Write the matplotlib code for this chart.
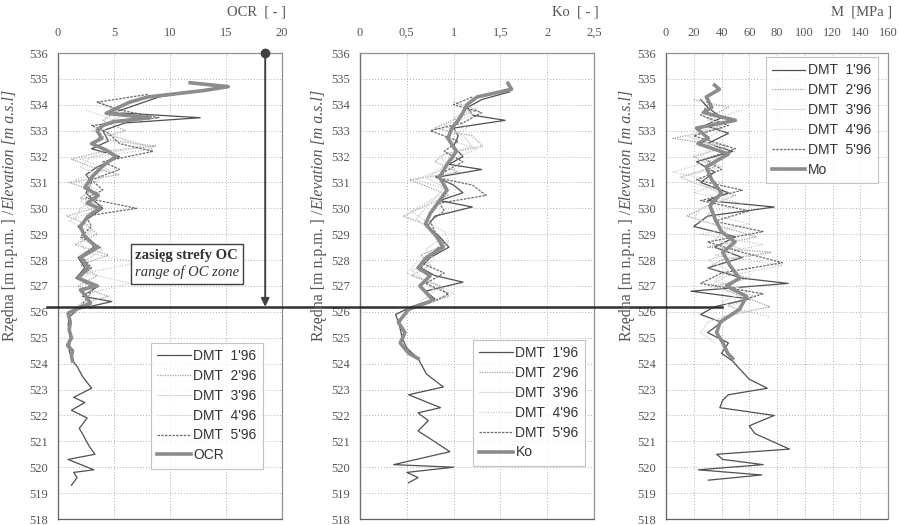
import matplotlib
matplotlib.use("Agg")
import matplotlib.pyplot as plt
from matplotlib.lines import Line2D
from matplotlib.offsetbox import TextArea, VPacker, AnnotationBbox
from matplotlib.transforms import blended_transform_factory

# ---------------- data: OCR panel ----------------
ocr_elev = [534.85, 534.7, 534.55, 534.3, 534.1, 533.9, 533.67, 533.5, 533.35, 533.2, 533.0,
            532.7, 532.5, 532.25, 532.0, 531.8, 531.6, 531.2, 530.8, 530.5, 530.2, 530.0,
            529.7, 529.3, 528.9, 528.5, 528.1, 527.7, 527.3, 527.0, 526.85, 526.6, 526.33,
            526.1, 525.95, 525.6, 525.3, 525.0, 524.7, 524.5, 524.3, 524.1]
ocr_mean = [11.8, 15.2, 13.0, 8.0, 6.4, 5.4, 4.3, 8.2, 5.0, 4.0, 3.5,
            3.9, 3.0, 4.3, 5.2, 4.5, 3.9, 3.0, 2.4, 3.6, 2.6, 3.7,
            2.7, 2.0, 2.4, 3.5, 2.0, 2.7, 1.8, 3.5, 2.0, 2.5, 2.9,
            1.6, 0.9, 1.1, 1.0, 1.2, 0.85, 1.3, 1.2, 1.3]

ocr1_elev = [534.6, 534.3, 534.0, 533.7, 533.5, 533.3, 533.0, 532.6, 532.3, 532.0, 531.6,
             531.3, 531.0, 530.6, 530.3, 530.0, 529.7, 529.3, 528.9, 528.5, 528.1, 527.7,
             527.3, 527.0, 526.6, 526.4, 526.1, 525.8, 525.5, 525.0, 524.5, 524.1, 523.9,
             523.5, 523.05, 522.7, 522.5, 522.2, 521.9, 521.5, 521.2, 520.8, 520.5, 520.3,
             519.9, 519.8, 519.6, 519.3]
ocr1 = [13.5, 9.0, 7.0, 5.0, 12.7, 6.0, 4.0, 4.5, 3.0, 5.5, 3.5,
        2.5, 3.0, 2.5, 3.2, 4.0, 3.0, 1.8, 2.6, 3.2, 1.8, 2.4,
        1.6, 3.6, 2.2, 4.8, 1.8, 1.0, 0.9, 1.1, 1.0, 1.3, 1.7,
        2.2, 3.0, 1.4, 2.4, 1.2, 2.6, 1.9, 2.3, 2.8, 3.3, 0.9,
        3.2, 1.4, 1.7, 1.2]

ocr2_elev = [534.1, 533.8, 533.4, 533.0, 532.7, 532.4, 532.2, 531.9, 531.6, 531.3, 531.0,
             530.7, 530.4, 530.1, 529.7, 529.4, 529.0, 528.6, 528.2, 527.8, 527.4, 527.0,
             526.6, 526.3, 526.0, 525.7]
ocr2 = [3.5, 5.5, 4.0, 6.0, 3.5, 8.7, 4.0, 1.2, 3.0, 5.5, 1.0,
        3.0, 2.0, 4.0, 0.8, 2.5, 3.5, 1.5, 4.5, 2.0, 3.5, 1.8,
        4.5, 2.0, 1.2, 1.0]

ocr3_elev = [534.0, 533.6, 533.2, 532.8, 532.4, 532.0, 531.6, 531.2, 530.8, 530.4, 530.0,
             529.6, 529.2, 528.8, 528.4, 528.0, 527.6, 527.2, 526.8, 526.4, 526.0]
ocr3 = [4.0, 6.0, 3.5, 5.0, 7.5, 3.0, 2.0, 4.0, 2.5, 3.5, 2.0,
        1.5, 3.0, 2.0, 4.0, 2.5, 3.0, 2.0, 3.0, 2.5, 1.5]

ocr4_elev = [533.8, 533.4, 533.0, 532.6, 532.3, 531.9, 531.5, 531.1, 530.7, 530.3, 529.9,
             529.5, 529.1, 528.7, 528.3, 527.9, 527.5, 527.1, 526.7, 526.3]
ocr4 = [2.5, 5.0, 3.0, 6.5, 8.5, 2.0, 4.5, 1.5, 3.5, 2.0, 3.0,
        1.0, 3.0, 2.0, 2.5, 7.0, 2.5, 6.5, 2.5, 2.0]

ocr5_elev = [534.4, 534.1, 533.8, 533.5, 533.2, 532.9, 532.5, 532.2, 531.8, 531.5, 531.1,
             530.7, 530.4, 530.0, 529.7, 529.3, 528.9, 528.5, 528.1, 527.7, 527.3, 526.9,
             526.5, 526.2]
ocr5 = [8.0, 3.5, 5.5, 9.0, 3.0, 4.5, 5.5, 8.5, 4.0, 5.5, 3.0,
        4.0, 2.5, 7.0, 2.5, 3.0, 2.0, 3.8, 2.2, 3.0, 1.8, 3.2,
        2.5, 2.0]

# ---------------- data: Ko panel ----------------
ko_elev = [534.83, 534.6, 534.3, 534.0, 533.7, 533.4, 533.1, 532.7, 532.2, 531.7, 531.2,
           530.7, 530.3, 529.8, 529.4, 528.9, 528.5, 528.1, 527.7, 527.4, 527.0, 526.5,
           526.4, 526.1, 525.6, 525.2, 524.8, 524.4, 524.2]
ko_mean = [1.58, 1.62, 1.25, 1.14, 1.10, 1.05, 0.98, 0.94, 1.03, 0.93, 0.85,
           0.93, 0.85, 0.75, 0.70, 0.82, 0.89, 0.71, 0.62, 0.75, 0.64, 0.77,
           0.75, 0.52, 0.41, 0.48, 0.43, 0.52, 0.62]

ko1_elev = [534.5, 534.2, 533.9, 533.6, 533.4, 533.1, 532.8, 532.4, 532.0, 531.7, 531.5,
            531.2, 530.9, 530.6, 530.3, 530.05, 529.7, 529.3, 528.9, 528.5, 528.1, 527.7,
            527.4, 527.15, 526.8, 526.5, 526.2, 525.9, 525.5, 525.0, 524.6, 524.2, 523.6,
            523.1, 522.8, 522.3, 522.1, 521.8, 521.4, 521.1, 520.6, 520.1, 520.0, 519.8,
            519.6, 519.4]
ko1 = [1.6, 1.3, 1.15, 1.2, 1.55, 1.0, 1.05, 1.0, 1.1, 0.95, 1.3,
       0.82, 1.0, 1.1, 0.85, 1.2, 0.8, 0.72, 0.85, 0.95, 0.75, 0.65,
       0.8, 1.1, 0.7, 0.8, 0.55, 0.38, 0.42, 0.45, 0.5, 0.62, 0.71,
       0.89, 0.52, 0.86, 0.62, 0.73, 0.62, 0.75, 0.96, 0.36, 1.0, 0.50,
       0.62, 0.52]

ko2_elev = [534.1, 533.8, 533.5, 533.1, 532.8, 532.4, 532.1, 531.8, 531.4, 531.1, 530.8,
            530.5, 530.1, 529.7, 529.4, 529.0, 528.6, 528.2, 527.8, 527.4, 527.0, 526.6,
            526.3]
ko2 = [1.0, 1.25, 1.05, 0.8, 1.2, 1.31, 0.9, 0.8, 1.05, 0.53, 0.75,
       0.95, 0.7, 0.46, 0.68, 0.8, 0.92, 0.65, 0.75, 0.55, 0.85, 0.95,
       0.7]

ko3_elev = [534.0, 533.6, 533.2, 532.8, 532.4, 532.0, 531.6, 531.2, 530.8, 530.4, 530.0,
            529.6, 529.2, 528.8, 528.4, 528.0, 527.6, 527.2, 526.8, 526.4]
ko3 = [1.1, 1.2, 0.9, 1.1, 1.2, 0.85, 0.95, 0.7, 0.9, 0.8, 0.7,
       0.6, 0.75, 0.85, 0.7, 0.8, 0.55, 0.7, 0.8, 0.65]

ko4_elev = [533.9, 533.5, 533.1, 532.7, 532.3, 531.9, 531.5, 531.1, 530.7, 530.3, 529.9,
            529.5, 529.1, 528.7, 528.3, 527.9, 527.5, 527.1, 526.7, 526.3]
ko4 = [1.25, 1.0, 1.15, 0.9, 1.25, 1.0, 0.85, 0.6, 0.95, 0.75, 0.55,
       0.7, 0.9, 0.95, 0.75, 0.6, 0.5, 0.8, 1.0, 0.7]

ko5_elev = [534.3, 534.0, 533.7, 533.3, 533.0, 532.6, 532.2, 531.8, 531.5, 531.2, 530.9,
            530.5, 530.2, 529.9, 529.5, 529.1, 528.7, 528.3, 527.9, 527.5, 527.1, 526.7,
            526.4]
ko5 = [1.2, 1.0, 1.3, 1.1, 0.75, 1.05, 0.9, 1.1, 0.95, 0.8, 1.2,
       1.35, 0.85, 0.9, 0.75, 0.8, 0.9, 0.78, 0.65, 0.9, 0.7, 0.95,
       0.78]

# ---------------- data: M panel ----------------
m_elev = [534.76, 534.6, 534.3, 533.9, 533.7, 533.4, 533.1, 532.7, 532.5, 532.1, 531.6,
          531.1, 530.6, 530.1, 529.6, 529.1, 528.7, 528.3, 527.8, 527.3, 527.0, 526.6,
          526.1, 525.6, 525.2, 524.8, 524.4, 524.2]
m_mean = [35, 38.5, 29, 33, 27, 50, 22, 30.5, 23, 45, 29,
          33, 40, 31.7, 35.3, 40, 49.7, 41, 46, 53, 43.5, 58,
          53, 39, 36.5, 41, 44.5, 48]

m1_elev = [534.2, 533.9, 533.5, 533.2, 532.9, 532.5, 532.2, 531.8, 531.4, 531.0, 530.6,
           530.3, 530.05, 529.7, 529.3, 528.9, 528.5, 528.1, 527.7, 527.3, 527.1, 526.8,
           526.5, 526.2, 525.9, 525.6, 525.2, 524.8, 524.4, 524.1, 523.8, 523.4, 523.05,
           522.8, 522.6, 522.3, 522.0, 521.6, 521.3, 520.7, 520.5, 520.3, 520.1, 519.9,
           519.7, 519.5]
m1 = [25, 30, 40, 28, 45, 30, 48, 22, 35, 25, 45,
      30, 78, 30, 20, 50, 35, 55, 30, 55, 88, 18,
      60, 35, 25, 40, 30, 45, 40, 48, 53, 60, 73,
      45, 41, 38.8, 78, 60, 64, 89, 36.5, 41, 70, 23.3,
      69, 30.5]

m2_elev = [534.2, 533.9, 533.5, 533.1, 532.7, 532.4, 532.0, 531.6, 531.2, 530.9, 530.5,
           530.1, 529.7, 529.3, 528.9, 528.5, 528.3, 528.0, 527.7, 527.3, 527.0, 526.6,
           526.2, 525.8]
m2 = [20, 45, 30, 40, 5, 45, 20, 35, 10, 25, 50,
      30, 15, 40, 65, 30, 76, 40, 30, 60, 35, 55,
      75, 40]

m3_elev = [534.0, 533.6, 533.2, 532.8, 532.4, 532.0, 531.6, 531.2, 530.8, 530.4, 530.0,
           529.6, 529.2, 528.8, 528.4, 528.0, 527.6, 527.2, 526.8, 526.4, 526.0, 525.6,
           525.2, 524.8]
m3 = [35, 25, 40, 15, 35, 25, 40, 10, 30, 45, 25,
      20, 45, 35, 55, 30, 45, 35, 60, 40, 55, 30,
      25, 35]

m4_elev = [533.8, 533.4, 533.0, 532.6, 532.2, 531.8, 531.4, 531.0, 530.6, 530.2, 529.8,
           529.4, 529.0, 528.6, 528.2, 527.8, 527.4, 527.0, 526.6, 526.2, 525.8]
m4 = [55, 30, 40, 25, 50, 30, 5, 40, 20, 55, 30,
      60, 25, 70, 35, 84, 45, 30, 65, 45, 75]

m5_elev = [534.0, 533.6, 533.2, 532.8, 532.3, 531.9, 531.5, 531.1, 530.7, 530.3, 529.9,
           529.5, 529.1, 528.7, 528.3, 527.9, 527.5, 527.1, 526.7, 526.3]
m5 = [30, 25, 45, 20, 50, 28, 40, 22, 55, 25, 60,
      35, 70, 30, 55, 84, 40, 25, 70, 45]

series_labels = ["DMT  1'96", "DMT  2'96", "DMT  3'96", "DMT  4'96", "DMT  5'96"]
oc_zone_bottom = 526.2
arrow_x = 18.5

# ---------------- styles ----------------
dmt_styles = [
    dict(color="#505050", lw=0.9, ls="-"),
    dict(color="#a0a0a0", lw=0.9, ls=(0, (1, 1))),
    dict(color="#dedede", lw=0.8, ls="-"),
    dict(color="#bdbdbd", lw=0.8, ls=(0, (1, 1.5))),
    dict(color="#6a6a6a", lw=0.9, ls=(0, (2, 1))),
]
mean_style = dict(color="#8c8c8c", lw=2.6, ls="-")

SERIF = "Liberation Serif"
SANS = "Liberation Sans"
TXT = "#555555"

fig = plt.figure(figsize=(8.99, 5.25), dpi=100)
W, H = 899.0, 525.0
y_top_px, y_bot_px = 53.0, 519.0
panels = [(58, 282), (360, 594), (666, 888)]
axes = []
for (l, r) in panels:
    ax = fig.add_axes([l / W, 1 - y_bot_px / H, (r - l) / W, (y_bot_px - y_top_px) / H])
    axes.append(ax)


def style_axis(ax, xmax, xstep, title, xticklabels):
    ax.set_xlim(0, xmax)
    ax.set_ylim(518, 536)
    ax.set_yticks(range(518, 537))
    ax.set_xticks([i * xstep for i in range(len(xticklabels))])
    ax.set_xticklabels(xticklabels)
    ax.xaxis.tick_top()
    ax.tick_params(axis="x", length=0, pad=10, labelsize=9, labelcolor=TXT)
    ax.tick_params(axis="y", length=0, pad=7, labelsize=9, labelcolor=TXT)
    for lab in ax.get_xticklabels() + ax.get_yticklabels():
        lab.set_fontfamily(SERIF)
    ax.grid(True, color="#b0b0b0", lw=0.7, ls=(0, (1, 2)))
    ax.set_axisbelow(True)
    for side in ["top", "right", "bottom"]:
        ax.spines[side].set_linestyle((0, (1, 1)))
        ax.spines[side].set_color("#909090")
        ax.spines[side].set_linewidth(0.9)
    ax.spines["bottom"].set_color("#606060")
    ax.spines["left"].set_color("#707070")
    ax.spines["left"].set_linewidth(1.0)
    ax.text(1.02, 1.075, title, transform=ax.transAxes, ha="right", va="bottom",
            fontsize=10.5, family=SERIF, color=TXT)


def draw_panel(ax, dmt, mean, mean_label, legend_anchor):
    handles = []
    for (elev, vals), lab, st in zip(dmt, series_labels, dmt_styles):
        h, = ax.plot(vals, elev, label=lab, **st)
        handles.append(h)
    h, = ax.plot(mean[1], mean[0], label=mean_label, **mean_style)
    handles.append(h)
    leg = ax.legend(handles=handles, loc="upper left", bbox_to_anchor=legend_anchor,
                    borderaxespad=0, frameon=True, fancybox=False,
                    prop={"family": SANS, "size": 10}, handlelength=2.4,
                    handletextpad=0.2, labelspacing=0.42, borderpad=0.45)
    leg.get_frame().set_edgecolor("#b5b5b5")
    leg.get_frame().set_linewidth(0.8)
    for t in leg.get_texts():
        t.set_color("#333333")


ax1, ax2, ax3 = axes
style_axis(ax1, 20, 5, "OCR  [ - ]", ["0", "5", "10", "15", "20"])
style_axis(ax2, 2.5, 0.5, "Ko  [ - ]", ["0", "0,5", "1", "1,5", "2", "2,5"])
style_axis(ax3, 160, 20, "M  [MPa ]", ["0", "20", "40", "60", "80", "100", "120", "140", "160"])

draw_panel(ax1, [(ocr1_elev, ocr1), (ocr2_elev, ocr2), (ocr3_elev, ocr3),
                 (ocr4_elev, ocr4), (ocr5_elev, ocr5)],
           (ocr_elev, ocr_mean), "OCR", (0.415, 0.378))
draw_panel(ax2, [(ko1_elev, ko1), (ko2_elev, ko2), (ko3_elev, ko3),
                 (ko4_elev, ko4), (ko5_elev, ko5)],
           (ko_elev, ko_mean), "Ko", (0.483, 0.384))
draw_panel(ax3, [(m1_elev, m1), (m2_elev, m2), (m3_elev, m3),
                 (m4_elev, m4), (m5_elev, m5)],
           (m_elev, m_mean), "Mo", (0.45, 0.991))

# y-axis labels: upright Polish part + italic English part
for (l, r), xc in zip(panels, [10, 319, 627]):
    split_y = 1 - 210 / H
    fig.text(xc / W, split_y, "Rzędna [m n.p.m. ] /", rotation=90, rotation_mode="anchor",
             ha="right", va="center", fontsize=11.5, family=SERIF, color=TXT)
    fig.text(xc / W, split_y, "Elevation [m a.s.l]", rotation=90, rotation_mode="anchor",
             ha="left", va="center", fontsize=11.5, family=SERIF, style="italic", color=TXT)

# OC zone boundary line spanning the panels
tr = blended_transform_factory(fig.transFigure, ax1.transData)
fig.add_artist(Line2D([47 / W, 722 / W], [oc_zone_bottom, oc_zone_bottom],
                      transform=tr, color="#303030", lw=1.8))

# vertical arrow with dot
ax1.annotate("", xy=(arrow_x, oc_zone_bottom), xytext=(arrow_x, 536),
             arrowprops=dict(arrowstyle="-|>", color="#404040", lw=1.4,
                             mutation_scale=12, shrinkA=0, shrinkB=0),
             annotation_clip=False)
ax1.plot([arrow_x], [536], marker="o", ms=6, color="#404040", clip_on=False, zorder=5)

# annotation box
t1 = TextArea("zasięg strefy OC", textprops=dict(family=SERIF, weight="bold",
                                                 size=10.5, color="#333333"))
t2 = TextArea("range of OC zone", textprops=dict(family=SERIF, style="italic",
                                                 size=10.5, color="#333333"))
pack = VPacker(children=[t1, t2], align="center", pad=0, sep=3)
ab = AnnotationBbox(pack, (11.5, 527.85), xycoords="data", frameon=True,
                    box_alignment=(0.5, 0.5), pad=0.3,
                    bboxprops=dict(edgecolor="#404040", lw=1.0, facecolor="white"))
ab.set_zorder(6)
ax1.add_artist(ab)

fig.savefig("out.png", dpi=100, facecolor="white")
